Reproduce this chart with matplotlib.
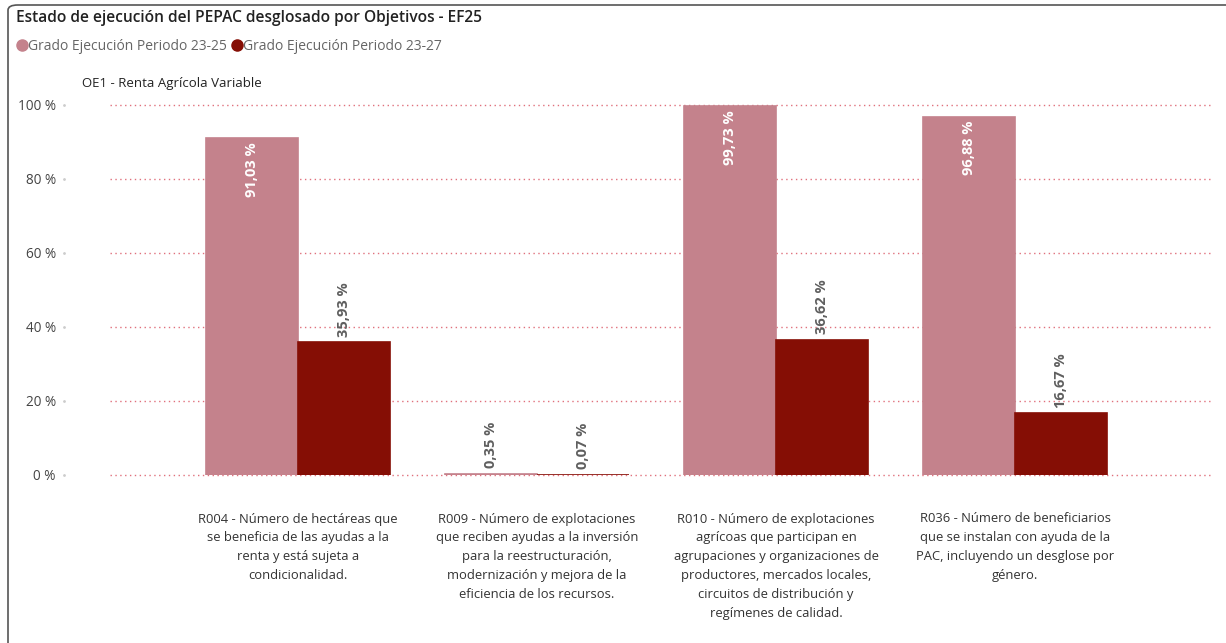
import matplotlib.pyplot as plt
from matplotlib.patches import FancyBboxPatch
from matplotlib.lines import Line2D
import numpy as np

plt.rcParams['font.family'] = ['Open Sans', 'DejaVu Sans']

# data
categorias = [
    "R004 - Número de hectáreas que\nse beneficia de las ayudas a la\nrenta y está sujeta a\ncondicionalidad.",
    "R009 - Número de explotaciones\nque reciben ayudas a la inversión\npara la reestructuración,\nmodernización y mejora de la\neficiencia de los recursos.",
    "R010 - Número de explotaciones\nagrícoas que participan en\nagrupaciones y organizaciones de\nproductores, mercados locales,\ncircuitos de distribución y\nregímenes de calidad.",
    "R036 - Número de beneficiarios\nque se instalan con ayuda de la\nPAC, incluyendo un desglose por\ngénero.",
]
ejec_23_25 = [91.03, 0.35, 99.73, 96.88]
ejec_23_27 = [35.93, 0.07, 36.62, 16.67]
series = ["Grado Ejecución Periodo 23-25", "Grado Ejecución Periodo 23-27"]
yticks = [0, 20, 40, 60, 80, 100]

col_claro = '#C4828C'
col_oscuro = '#850E05'
gris = '#5f5f5f'

fig = plt.figure(figsize=(12.26, 6.43), dpi=100)

# marco del visual
fig.patches.append(FancyBboxPatch((8/1226, -0.05), 1.1, 1 - 5/643 + 0.05,
                                  boxstyle='round,pad=0,rounding_size=0.008',
                                  transform=fig.transFigure, fill=False,
                                  edgecolor='#555555', linewidth=1.2))

ax = fig.add_axes([110/1226, 1 - 475/643, 1101/1226, 370/643])

x = np.arange(len(categorias))
w = 0.385
b1 = ax.bar(x - w/2, ejec_23_25, w, color=col_claro, edgecolor=col_claro,
            linewidth=1.2, zorder=2)
b2 = ax.bar(x + w/2, ejec_23_27, w, color=col_oscuro, edgecolor=col_oscuro,
            linewidth=1.2, zorder=2)

def fmt(v):
    return f"{v:.2f}".replace('.', ',') + " %"

for bars, vals in [(b1, ejec_23_25), (b2, ejec_23_27)]:
    for r, v in zip(bars, vals):
        cx = r.get_x() + r.get_width()/2
        if v > 30 and bars is b1:
            ax.annotate(fmt(v), (cx, v), xytext=(0, -3), textcoords='offset points',
                        rotation=90, ha='center', va='top', color='white',
                        fontsize=10.5, fontweight='bold')
        else:
            ax.annotate(fmt(v), (cx, v), xytext=(0, 4), textcoords='offset points',
                        rotation=90, ha='center', va='bottom', color=gris,
                        fontsize=10.5, fontweight='bold')

ax.set_xlim(-0.787, 3.82)
ax.set_ylim(0, 100)
ax.set_yticks(yticks)
ax.set_yticklabels([f"{t} %" for t in yticks], fontsize=9.8, color='#444444')
ax.tick_params(axis='y', length=0, pad=39)
for t in yticks:
    ax.plot([-0.787, 3.82], [t, t], linestyle=(0, (1, 2.5)), color='#e0707c',
            linewidth=1.0, zorder=1, clip_on=False)
ax.set_xticks(x)
ax.set_xticklabels(categorias, fontsize=9.4, color='#333333', linespacing=1.58)
ax.tick_params(axis='x', length=0, pad=27)
for s in ax.spines.values():
    s.set_visible(False)

# puntitos de los ticks
for t in yticks:
    fig.add_artist(Line2D([64/1226], [1 - (475 - t*3.7)/643], marker='o', markersize=1,
                          color='#cccccc', transform=fig.transFigure))

fig.text(16/1226, 1 - 18/643, "Estado de ejecución del PEPAC desglosado por Objetivos - EF25",
         fontsize=11.2, fontweight='semibold', color='#222222', va='center')

handles = [Line2D([], [], marker='o', linestyle='', color=col_claro, markersize=8),
           Line2D([], [], marker='o', linestyle='', color=col_oscuro, markersize=8)]
fig.legend(handles, series, loc='center left', bbox_to_anchor=(18/1226, 1 - 46/643),
           ncol=2, frameon=False, fontsize=10, handlelength=0.6, handletextpad=0.15,
           columnspacing=0.4, labelcolor='#666666', borderaxespad=0, borderpad=0)

fig.text(82/1226, 1 - 83/643, "OE1 - Renta Agrícola Variable", fontsize=9.5,
         color='#222222', va='center')

fig.savefig('out.png', dpi=100)
